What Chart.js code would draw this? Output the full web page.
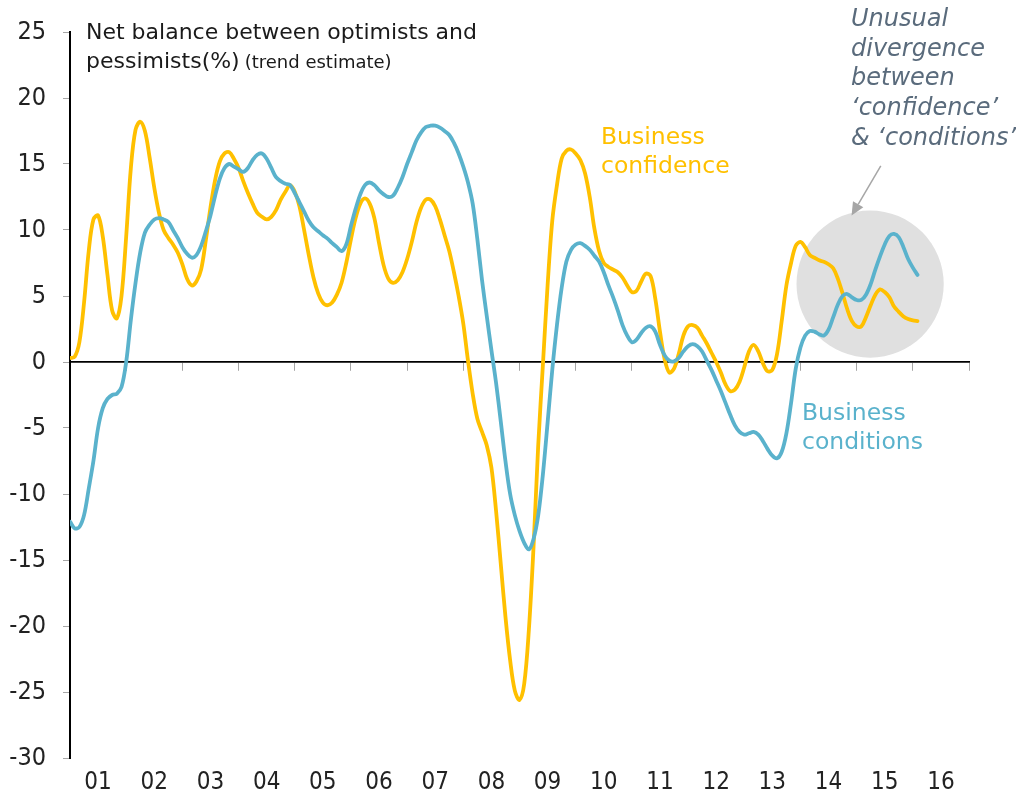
<!DOCTYPE html>
<html><head><meta charset="utf-8">
<script src="https://cdn.jsdelivr.net/npm/chart.js@4.4.1/dist/chart.umd.min.js"></script>
<style>html,body{margin:0;padding:0;background:#fff;}#wrap{width:1016px;height:804px;}</style>
</head><body><div id="wrap"><canvas id="c" width="1016" height="804"></canvas></div>
<script>
// ---- data ----
const yearLabels = ['01','02','03','04','05','06','07','08','09','10','11','12','13','14','15','16'];
const monthsPerYear = 12;
const yMin = -30, yMax = 25, yStep = 5;
// Monthly trend estimates, Jan 2001 onward (net balance, %)
const businessConfidence = [
 0.3, 0.4, 1.5, 4.5, 8.4, 10.8, 11.1, 9.5, 6.6, 3.9, 3.3, 5.0,
 9.5, 14.7, 17.6, 18.2, 17.5, 15.5, 13.2, 11.3, 10.0, 9.4, 8.9, 8.3,
 7.4, 6.3, 5.8, 6.1, 7.0, 9.2, 11.7, 13.8, 15.2, 15.8, 15.9, 15.4,
 14.7, 13.7, 12.8, 12.0, 11.3, 11.0, 10.8, 11.0, 11.5, 12.3, 12.9, 13.4,
 12.9, 11.8, 10.0, 8.1, 6.4, 5.2, 4.5, 4.3, 4.5, 5.1, 6.0, 7.5,
 9.3, 10.9, 12.0, 12.4, 12.0, 10.9, 9.0, 7.3, 6.3, 6.0, 6.2, 6.8,
 7.8, 9.1, 10.6, 11.7, 12.3, 12.3, 11.8, 10.8, 9.6, 8.4, 6.8, 5.0,
 2.9, 0.1, -2.4, -4.3, -5.3, -6.3, -8.0, -11.3, -15.3, -19.3, -22.6, -24.9,
 -25.6, -24.4, -20.3, -14.0, -6.3, -0.2, 5.8, 10.7, 13.4, 15.4, 16.0, 16.1,
 15.8, 15.3, 14.3, 12.5, 10.1, 8.4, 7.5, 7.2, 7.0, 6.8, 6.4, 5.8,
 5.3, 5.4, 6.1, 6.7, 6.5, 4.8, 2.3, 0.2, -0.8, -0.5, 0.6, 2.0,
 2.7, 2.8, 2.6, 2.0, 1.4, 0.7, 0.0, -0.8, -1.7, -2.2, -2.1, -1.5,
 -0.4, 0.8, 1.3, 0.8, -0.1, -0.7, -0.6, 0.6, 3.1, 5.8, 7.5, 8.8,
 9.1, 8.7, 8.1, 7.9, 7.7, 7.6, 7.4, 7.1, 6.3, 5.2, 4.0, 3.1,
 2.7, 2.7, 3.4, 4.3, 5.1, 5.5, 5.3, 4.9, 4.2, 3.8, 3.45, 3.25,
 3.15, 3.1
];
const businessConditions = [
 -12.1, -12.6, -12.5, -11.6, -9.6, -7.5, -5.0, -3.5, -2.8, -2.5, -2.4, -1.9,
 0.0, 3.2, 6.0, 8.3, 9.8, 10.4, 10.8, 10.9, 10.8, 10.6, 10.0, 9.4,
 8.7, 8.2, 7.9, 8.1, 8.8, 9.9, 11.1, 12.6, 13.9, 14.7, 15.0, 14.8,
 14.6, 14.4, 14.7, 15.3, 15.7, 15.8, 15.4, 14.7, 14.0, 13.7, 13.5, 13.4,
 12.8, 12.1, 11.4, 10.7, 10.2, 9.9, 9.6, 9.35, 9.0, 8.7, 8.4, 8.9,
 10.3, 11.6, 12.7, 13.4, 13.6, 13.4, 13.0, 12.7, 12.5, 12.6, 13.2, 14.0,
 15.0, 15.9, 16.8, 17.4, 17.8, 17.9, 17.9, 17.75, 17.5, 17.2, 16.6, 15.8,
 14.8, 13.6, 12.0, 9.3, 6.2, 3.5, 0.9, -1.6, -4.5, -7.5, -10.0, -11.6,
 -12.8, -13.7, -14.2, -13.4, -11.6, -8.5, -4.6, -0.6, 2.8, 5.6, 7.6, 8.5,
 8.9, 9.0, 8.8, 8.5, 8.05, 7.6, 6.8, 5.8, 4.9, 3.9, 2.8, 2.0,
 1.5, 1.7, 2.2, 2.6, 2.7, 2.3, 1.3, 0.5, 0.1, 0.05, 0.3, 0.8,
 1.2, 1.35, 1.2, 0.8, 0.1, -0.6, -1.4, -2.2, -3.1, -4.0, -4.8, -5.3,
 -5.5, -5.4, -5.3, -5.5, -6.0, -6.6, -7.1, -7.3, -6.8, -5.4, -3.1, -0.5,
 1.1, 2.0, 2.35, 2.3, 2.1, 2.0, 2.45, 3.4, 4.35, 5.0, 5.15, 4.9,
 4.7, 4.7, 5.1, 5.9, 7.0, 8.0, 8.9, 9.55, 9.7, 9.45, 8.7, 7.8,
 7.15, 6.6
];
const seriesNames = ['Business confidence', 'Business conditions'];
const titleLines = ['Net balance between optimists and', 'pessimists(%)', '(trend estimate)'];
const noteLines = ['Unusual', 'divergence', 'between', '\u2018confidence\u2019', '& \u2018conditions\u2019'];
// highlight circle & arrow (in axis units: years since Jan 2001, net balance)
const highlight = { x: 14.24, y: 5.9, r: 1.31 };
const arrow = { from: [14.43, 14.86], to: [13.91, 11.1] };

// ---- styles ----
const COL_CONF = '#FFC000';
const COL_COND = '#5AB2CC';
const TICK_FONT = "'Liberation Sans Narrow', 'DejaVu Sans Condensed', sans-serif";
const TEXT_FONT = "'DejaVu Sans', sans-serif";

const toPoints = arr => arr.map((v, i) => ({ x: i / monthsPerYear, y: v }));

const annotationPlugin = {
  id: 'annot',
  beforeDatasetsDraw(chart) {
    const { ctx, scales: { x, y } } = chart;
    const cx = x.getPixelForValue(highlight.x), cy = y.getPixelForValue(highlight.y);
    const r = x.getPixelForValue(highlight.x + highlight.r) - cx;
    ctx.save();
    ctx.fillStyle = '#e0e0e0';
    ctx.beginPath(); ctx.arc(cx, cy, r, 0, Math.PI * 2); ctx.fill();
    ctx.restore();
  },
  afterDraw(chart) {
    const { ctx, scales: { x, y } } = chart;
    ctx.save();
    ctx.textBaseline = 'middle';
    ctx.textAlign = 'left';
    // title
    ctx.fillStyle = '#1a1a1a';
    ctx.font = '22px ' + TEXT_FONT;
    ctx.fillText(titleLines[0], 86, 33);
    ctx.fillText(titleLines[1], 86, 62);
    const w = ctx.measureText(titleLines[1]).width;
    ctx.font = '18px ' + TEXT_FONT;
    ctx.fillText(titleLines[2], 86 + w + 5, 63);
    // series labels
    ctx.font = '23.5px ' + TEXT_FONT;
    ctx.fillStyle = COL_CONF;
    const confWords = seriesNames[0].split(' ');
    ctx.fillText(confWords[0], 601, 138);
    ctx.fillText(confWords[1], 601, 167);
    ctx.fillStyle = COL_COND;
    const condWords = seriesNames[1].split(' ');
    ctx.fillText(condWords[0], 802, 414);
    ctx.fillText(condWords[1], 802, 443);
    // note
    ctx.fillStyle = '#5a6b7c';
    ctx.font = 'italic 24px ' + TEXT_FONT;
    noteLines.forEach((t, i) => ctx.fillText(t, 851, 20 + i * 29.6));
    // arrow
    const x1 = x.getPixelForValue(arrow.from[0]), y1 = y.getPixelForValue(arrow.from[1]);
    const x2 = x.getPixelForValue(arrow.to[0]), y2 = y.getPixelForValue(arrow.to[1]);
    const ang = Math.atan2(y2 - y1, x2 - x1);
    const hl = 13, hw = 6;
    const bx = x2 - hl * Math.cos(ang), by = y2 - hl * Math.sin(ang);
    ctx.strokeStyle = '#a6a6a6'; ctx.fillStyle = '#a6a6a6'; ctx.lineWidth = 1.5;
    ctx.beginPath(); ctx.moveTo(x1, y1); ctx.lineTo(bx, by); ctx.stroke();
    ctx.beginPath();
    ctx.moveTo(x2, y2);
    ctx.lineTo(bx + hw * Math.sin(ang), by - hw * Math.cos(ang));
    ctx.lineTo(bx - hw * Math.sin(ang), by + hw * Math.cos(ang));
    ctx.closePath(); ctx.fill();
    ctx.restore();
  }
};

new Chart(document.getElementById('c'), {
  type: 'line',
  data: {
    datasets: [
      { label: seriesNames[0], data: toPoints(businessConfidence), borderColor: COL_CONF, order: 1 },
      { label: seriesNames[1], data: toPoints(businessConditions), borderColor: COL_COND, order: 0 }
    ]
  },
  options: {
    responsive: false,
    animation: false,
    layout: { padding: { top: 27, right: 47, bottom: 0, left: 0 } },
    plugins: { legend: { display: false }, tooltip: { enabled: false } },
    elements: {
      point: { radius: 0 },
      line: { borderWidth: 3.8, tension: 0.35, fill: false, borderCapStyle: 'round', borderJoinStyle: 'round' }
    },
    scales: {
      x: {
        type: 'linear', position: 'bottom', min: 0, max: yearLabels.length,
        afterBuildTicks(s) { s.ticks = yearLabels.map((l, i) => ({ value: i + 0.5 })); },
        afterFit(s) { s.height = 46; },
        ticks: { autoSkip: false, maxRotation: 0, padding: 10, color: '#222',
                 font: { family: TICK_FONT, size: 24 }, callback: (v, i) => yearLabels[i] },
        grid: { display: false, drawTicks: false },
        border: { display: false }
      },
      xz: {
        type: 'linear', position: { y: 0 }, min: 0, max: yearLabels.length,
        ticks: { display: false, stepSize: 1 },
        grid: { drawOnChartArea: false, drawTicks: true, tickLength: 8, color: '#a6a6a6', lineWidth: 1 },
        border: { display: true, color: '#000', width: 1.8 }
      },
      y: {
        type: 'linear', position: 'left', min: yMin, max: yMax,
        afterFit(s) { s.width = 70; },
        ticks: { stepSize: yStep, padding: 17, color: '#222', font: { family: TICK_FONT, size: 25 } },
        grid: { drawOnChartArea: false, drawTicks: true, tickLength: 7, color: '#a6a6a6', lineWidth: 1 },
        border: { display: true, color: '#000', width: 2 }
      }
    }
  },
  plugins: [annotationPlugin]
});
</script>
</body></html>
